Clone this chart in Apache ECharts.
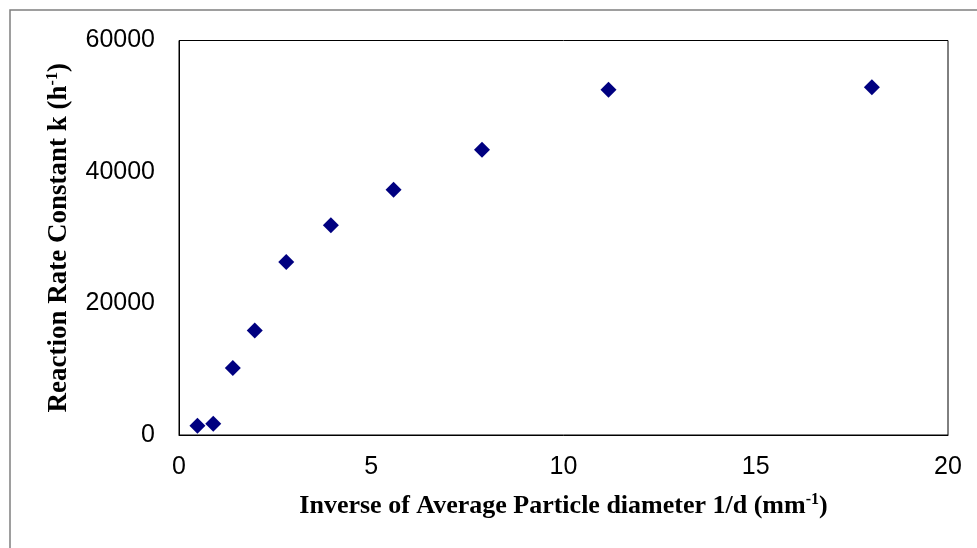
<!DOCTYPE html>
<html>
<head>
<meta charset="utf-8">
<script src="https://cdn.jsdelivr.net/npm/echarts@6/dist/echarts.min.js"></script>
<style>html,body{margin:0;padding:0;background:#fff;}#c{width:977px;height:548px;}</style>
</head>
<body>
<div id="c"></div>
<script>
const inverseDiameter = [0.48, 0.89, 1.40, 1.97, 2.79, 3.95, 5.58, 7.88, 11.17, 18.02];
const rateConstant = [1400, 1700, 10200, 15900, 26300, 31900, 37300, 43400, 52500, 52900];
const xTicks = [0, 5, 10, 15, 20];
const yTicks = [0, 20000, 40000, 60000];

const points = inverseDiameter.map((x, i) => [x, rateConstant[i]]);
const chart = echarts.init(document.getElementById('c'));
function titleRich(size) {
  return {
    t: { fontFamily: 'Liberation Serif', fontWeight: 'bold', fontSize: size, color: '#000' },
    s: { fontFamily: 'Liberation Serif', fontWeight: 'bold', fontSize: Math.round(size * 0.6), color: '#000', verticalAlign: 'top', padding: [0, 0, 12, 0] }
  };
}
chart.setOption({
  animation: false,
  backgroundColor: '#fff',
  graphic: [{
    type: 'rect', shape: { x: 10, y: 10, width: 1200, height: 1200 },
    style: { fill: 'none', stroke: '#7f7f7f', lineWidth: 1.5 }, silent: true
  }],
  grid: { left: 179, top: 40.5, right: 29, bottom: 113, show: true, borderColor: '#000', borderWidth: 1, backgroundColor: 'transparent' },
  xAxis: {
    type: 'value', min: xTicks[0], max: xTicks[xTicks.length - 1], interval: 5,
    splitLine: { show: false }, axisTick: { show: false },
    axisLine: { show: true, lineStyle: { color: '#000' } },
    axisLabel: { fontFamily: 'Liberation Sans', fontSize: 25, color: '#000', margin: 20, formatter: v => String(v) },
    name: '{t|Inverse of Average Particle diameter 1/d (mm}{s|-1}{t|)}',
    nameLocation: 'middle', nameGap: 57,
    nameTextStyle: { rich: titleRich(26) }
  },
  yAxis: {
    type: 'value', min: yTicks[0], max: yTicks[yTicks.length - 1], interval: 20000,
    splitLine: { show: false }, axisTick: { show: false },
    axisLine: { show: true, lineStyle: { color: '#000' } },
    axisLabel: { fontFamily: 'Liberation Sans', fontSize: 25, color: '#000', margin: 24, formatter: v => String(v) },
    name: '{t|Reaction Rate Constant k (h}{s|-1}{t|)}',
    nameLocation: 'middle', nameGap: 106, nameRotate: 90,
    nameTextStyle: { rich: titleRich(27) }
  },
  series: [{
    type: 'scatter', data: points, symbol: 'diamond', symbolSize: [16, 16],
    itemStyle: { color: '#000080', opacity: 1 }
  }]
});
</script>
</body>
</html>
